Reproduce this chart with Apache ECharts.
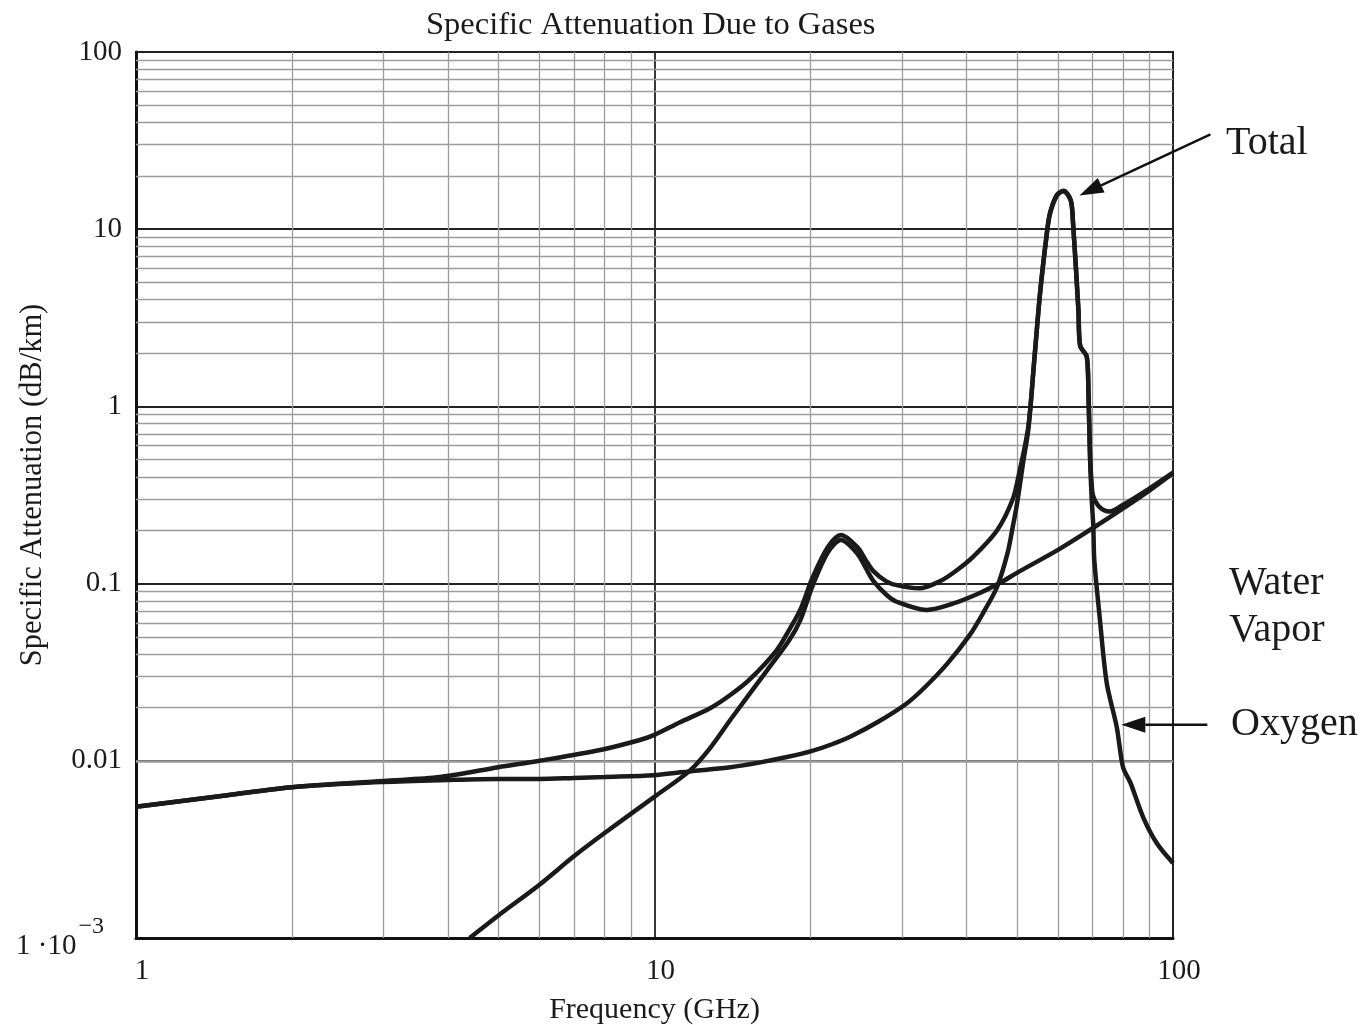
<!DOCTYPE html>
<html>
<head>
<meta charset="utf-8">
<title>Specific Attenuation Due to Gases</title>
<script src="https://cdn.jsdelivr.net/npm/echarts@6/dist/echarts.min.js"></script>
<style>
html, body { margin: 0; padding: 0; background: #fff; }
#chart { width: 1362px; height: 1025px; }
</style>
</head>
<body>
<div id="chart"></div>
<script>
// values (frequency in GHz, attenuation in dB/km)
var freqOxygen = [1, 1.5, 2, 3, 4, 5, 6, 7, 8, 10, 12, 14, 16, 18, 20, 22, 24, 27, 30.6, 33, 36.6, 40.5, 43, 45.8, 48, 49.1, 50, 51.5, 52.6, 54, 55.4, 57.1, 57.9, 59.7, 61.5, 63.5, 64.1, 65.7, 66.2, 68.2, 68.7, 69.2, 69.7, 70.2, 70.5, 72.2, 74.5, 77.9, 80.1, 82.8, 87.6, 93, 100];
var attOxygen = [0.0055, 0.0064, 0.0071, 0.0076, 0.0078, 0.0079, 0.0079, 0.008, 0.0081, 0.0083, 0.0088, 0.0092, 0.0098, 0.0105, 0.0113, 0.0124, 0.0138, 0.0166, 0.021, 0.0255, 0.035, 0.051, 0.068, 0.096, 0.15, 0.21, 0.28, 0.5, 0.74, 1.8, 4.3, 9.4, 12.2, 15.5, 16.4, 14.5, 11.2, 3.5, 2.2, 1.9, 1.18, 0.5, 0.3, 0.21, 0.136, 0.065, 0.0275, 0.0155, 0.0092, 0.0075, 0.0048, 0.00344, 0.00265];

var freqWater = [4.4, 5, 6, 7, 8, 10.1, 11.7, 12.8, 14.1, 16.5, 18.2, 19.1, 20.2, 21.6, 22.9, 24.6, 25.5, 26.4, 28, 29.3, 33.5, 37.6, 42.4, 46.4, 50, 60, 69, 80, 90, 100];
var attWater = [0.001, 0.00134, 0.002, 0.0029, 0.0039, 0.0064, 0.0088, 0.0118, 0.0175, 0.0325, 0.048, 0.062, 0.098, 0.15, 0.176, 0.148, 0.124, 0.104, 0.0865, 0.079, 0.071, 0.077, 0.0885, 0.101, 0.115, 0.155, 0.20, 0.265, 0.335, 0.42];

var freqTotal = [1, 1.5, 2, 3, 3.86, 5, 6, 7.86, 9.37, 10, 11.2, 12.8, 14, 15.3, 17.2, 18.2, 19.1, 20.2, 21.6, 22.9, 24.6, 25.5, 26.4, 28, 29.3, 32.4, 35.5, 38, 41.1, 45.8, 49.1, 50.5, 52.6, 54, 55.4, 57.1, 57.9, 59.7, 61.5, 63.5, 64.1, 65.7, 66.2, 68.2, 68.7, 69.2, 69.7, 70.2, 72.2, 75.4, 80, 90, 100];
var attTotal = [0.0055, 0.0064, 0.0071, 0.0077, 0.0081, 0.0092, 0.0100, 0.0115, 0.0131, 0.0140, 0.0165, 0.0198, 0.0235, 0.029, 0.042, 0.055, 0.071, 0.109, 0.161, 0.188, 0.161, 0.137, 0.118, 0.103, 0.098, 0.094, 0.103, 0.117, 0.141, 0.2, 0.30, 0.42, 0.77, 1.83, 4.35, 9.5, 12.3, 15.6, 16.5, 14.6, 11.3, 3.5, 2.2, 1.91, 1.19, 0.52, 0.36, 0.31, 0.27, 0.255, 0.278, 0.344, 0.423];

var xTickLabels = ['1', '10', '100'];
var yTickLabels = ['1 ·10^−3', '0.01', '0.1', '1', '10', '100'];

// where the annotation arrows point (data coords)
var totalArrowTip = [66, 15.5];
var oxygenArrowTip = [79.5, 0.016];

var FONT = '"Liberation Serif", "Times New Roman", serif';
var INK = '#1a1a1a';

function zip(xs, ys) {
	return xs.map(function(x, i) { return [x, ys[i]]; });
}

// log paper minor lines 2..9 in each decade
var xMinor = [];
for (var d = 1; d < 100; d *= 10) {
	for (var k = 2; k <= 9; k++) xMinor.push(k * d);
}
var yMinor = [];
for (var e = -3; e < 2; e++) {
	for (var m = 2; m <= 9; m++) yMinor.push(+(m * Math.pow(10, e)).toPrecision(3));
}

var myChart = echarts.init(document.getElementById('chart'));

function curve(name, data) {
	return {
		name: name,
		type: 'line',
		data: data,
		showSymbol: false,
		symbol: 'none',
		smooth: 0.3,
		z: 3,
		lineStyle: { width: 4.5, color: INK },
		clip: true
	};
}

var option = {
	animation: false,
	backgroundColor: '#fff',
	title: {
		text: 'Specific Attenuation Due to Gases',
		left: 421,
		top: 4,
		textStyle: { fontFamily: FONT, fontSize: 32.5, fontWeight: 'normal', color: INK }
	},
	grid: {
		left: 136,
		right: 189,
		top: 52,
		bottom: 87,
		outerBoundsMode: 'none',
		containLabel: false,
		show: true,
		borderColor: '#222',
		borderWidth: 2
	},
	xAxis: {
		type: 'log',
		logBase: 10,
		min: 1,
		max: 100,
		name: 'Frequency (GHz)',
		nameLocation: 'middle',
		nameGap: 57,
		nameMoveOverlap: false,
		nameTextStyle: { fontFamily: FONT, fontSize: 30, color: INK },
		axisLine: { show: true, lineStyle: { color: '#111', width: 3 } },
		axisTick: { show: false },
		axisLabel: {
			fontFamily: FONT, fontSize: 29, color: INK, margin: 19,
			padding: [0, 0, 0, 12],
			formatter: function(v) {
				return xTickLabels[Math.round(Math.log(v) / Math.LN10)];
			}
		},
		splitLine: { show: true, lineStyle: { color: '#222', width: 1.8 } }
	},
	yAxis: {
		type: 'log',
		logBase: 10,
		min: 0.001,
		max: 100,
		name: 'Specific Attenuation (dB/km)',
		nameLocation: 'middle',
		nameGap: 88,
		nameMoveOverlap: false,
		nameTextStyle: { fontFamily: FONT, fontSize: 30.5, color: INK, padding: [0, 0, 0, 20] },
		axisLine: { show: true, lineStyle: { color: '#111', width: 3 } },
		axisTick: { show: false },
		axisLabel: {
			fontFamily: FONT, fontSize: 29, color: INK, margin: 14,
			formatter: function(v) {
				var s = yTickLabels[Math.round(Math.log(v) / Math.LN10) + 3];
				if (s.indexOf('^') >= 0) {
					var p = s.split('^');
					return '{m|' + p[0] + '}{e|' + p[1] + '}';
				}
				return s;
			},
			rich: {
				m: { fontFamily: FONT, fontSize: 29, color: INK, lineHeight: 46, verticalAlign: 'bottom' },
				e: { fontFamily: FONT, fontSize: 24, color: INK, lineHeight: 46, verticalAlign: 'top', padding: [0, 18, 0, 2] }
			}
		},
		splitLine: { show: true, lineStyle: { color: '#222', width: 1.8 } }
	},
	series: [
		{
			name: 'minor grid',
			type: 'line',
			data: [],
			silent: true,
			markLine: {
				silent: true,
				z: 1,
				symbol: ['none', 'none'],
				label: { show: false },
				lineStyle: { color: '#9c9c9c', width: 1.3, type: 'solid' },
				emphasis: { disabled: true },
				animation: false,
				data: xMinor.map(function(v) { return { xAxis: v }; })
					.concat(yMinor.map(function(v) { return { yAxis: v }; }))
			}
		},
		curve('Oxygen', zip(freqOxygen, attOxygen)),
		curve('Water Vapor', zip(freqWater, attWater)),
		curve('Total', zip(freqTotal, attTotal))
	]
};

myChart.setOption(option);

function arrow(tip, tail) {
	var dx = tail[0] - tip[0], dy = tail[1] - tip[1];
	var len = Math.sqrt(dx * dx + dy * dy);
	var ux = dx / len, uy = dy / len;
	var bx = tip[0] + ux * 24, by = tip[1] + uy * 24;
	return [
		{ type: 'line', shape: { x1: bx, y1: by, x2: tail[0], y2: tail[1] }, style: { stroke: '#111', lineWidth: 2.5 }, z: 10 },
		{ type: 'polygon', shape: { points: [tip, [bx - uy * 8, by + ux * 8], [bx + uy * 8, by - ux * 8]] }, style: { fill: '#111' }, z: 10 }
	];
}

function label(text, x, y) {
	return {
		type: 'text',
		z: 10,
		style: {
			text: text, x: x, y: y,
			font: '40px ' + FONT,
			fill: INK,
			textVerticalAlign: 'middle',
			verticalAlign: 'middle'
		}
	};
}

var tTip = myChart.convertToPixel({ gridIndex: 0 }, totalArrowTip);
var oTip = myChart.convertToPixel({ gridIndex: 0 }, oxygenArrowTip);

myChart.setOption({
	graphic: [].concat(
		arrow(tTip, [tTip[0] + 131, tTip[1] - 61]),
		arrow(oTip, [oTip[0] + 86, oTip[1]]),
		[
			label('Total', 1226, 143),
			label('Water', 1229, 583),
			label('Vapor', 1229, 630),
			label('Oxygen', 1231, 724)
		]
	)
});

window.addEventListener('resize', function() {
	myChart.resize();
});
</script>
</body>
</html>
